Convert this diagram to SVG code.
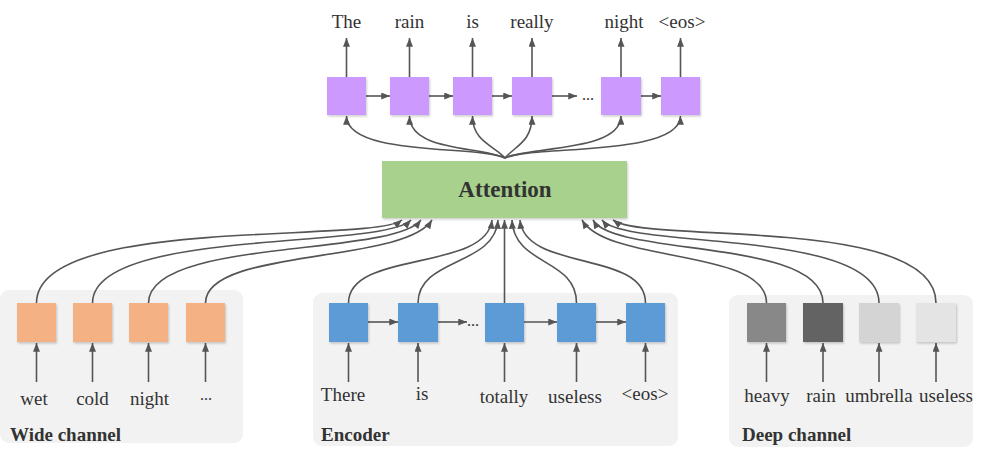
<svg xmlns="http://www.w3.org/2000/svg" width="998" height="461" viewBox="0 0 998 461">
<defs>
  <marker id="ah" viewBox="0 0 10 8" refX="10" refY="4" markerWidth="9" markerHeight="7" markerUnits="userSpaceOnUse" orient="auto">
    <path d="M0,0 L10,4 L0,8 z" fill="#555"/>
  </marker>
  <filter id="sh" x="-20%" y="-20%" width="150%" height="150%">
    <feDropShadow dx="1" dy="1.5" stdDeviation="1" flood-color="#000" flood-opacity="0.2"/>
  </filter>
</defs>
<style>
  .panel { fill: #F2F2F2; }
  .box { filter: url(#sh); }
  .dec { fill: #CC99FF; }
  .wide { fill: #F4B183; }
  .enc { fill: #5B9BD5; }
  .att { fill: #A9D18E; }
  .t { font-family: "Liberation Serif", "Times New Roman", serif; font-size: 19px; fill: #333; }
  .b { font-family: "Liberation Serif", "Times New Roman", serif; font-size: 19px; font-weight: bold; fill: #333; }
  .c { text-anchor: middle; }
  .ln { fill: none; stroke: #555; stroke-width: 1.6; marker-end: url(#ah); }
</style>
<rect width="998" height="461" fill="#fff"/>

<g id="wide-channel">
  <rect class="panel" x="0" y="290" width="243" height="153" rx="9"/>
  <text class="b" x="10" y="441">Wide channel</text>
</g>
<g id="encoder-panel">
  <rect class="panel" x="313" y="293" width="365" height="153" rx="9"/>
  <text class="b" x="321" y="441">Encoder</text>
</g>
<g id="deep-channel">
  <rect class="panel" x="729" y="295" width="244" height="152" rx="9"/>
  <text class="b" x="742" y="441">Deep channel</text>
</g>

<g id="connectors">
  <!-- decoder outputs -->
  <path class="ln" d="M346.5,77 L346.5,38"/>
  <path class="ln" d="M409.5,77 L409.5,38"/>
  <path class="ln" d="M472.5,77 L472.5,38"/>
  <path class="ln" d="M532,77 L532,38"/>
  <path class="ln" d="M621,77 L621,38"/>
  <path class="ln" d="M680.5,77 L680.5,38"/>
  <!-- decoder horizontal -->
  <path class="ln" d="M366,96 L390,96"/>
  <path class="ln" d="M429,96 L453,96"/>
  <path class="ln" d="M492,96 L512,96"/>
  <path class="ln" d="M552,96 L577,96"/>
  <path class="ln" d="M641,96 L661,96"/>
  <!-- attention to decoder -->
  <path class="ln" d="M505,158 C480,145 347,157 346.5,116"/>
  <path class="ln" d="M505,158 C482,146 410,152 409.5,116"/>
  <path class="ln" d="M505,158 C495,146 472.5,142 472.5,116"/>
  <path class="ln" d="M505,158 C515,146 532,142 532,116"/>
  <path class="ln" d="M505,158 C530,146 620.5,152 621,116"/>
  <path class="ln" d="M505,158 C530,145 680,157 680.5,116"/>
  <!-- wide channel to attention -->
  <path class="ln" d="M36.5,303 C36.5,215 372,244 402,220"/>
  <path class="ln" d="M92.5,303 C92.5,228 382,250 411,220"/>
  <path class="ln" d="M148.5,303 C148.5,238 392,257 421,220"/>
  <path class="ln" d="M205.5,303 C205.5,248 404,264 432,220"/>
  <!-- encoder to attention -->
  <path class="ln" d="M348.5,303 C348.5,250 486,272 492,220"/>
  <path class="ln" d="M418,303 C418,258 495,266 498,220"/>
  <path class="ln" d="M504.5,303 L504.5,220"/>
  <path class="ln" d="M576.5,303 C576.5,258 514,266 512,220"/>
  <path class="ln" d="M645.5,303 C645.5,250 525,272 520,220"/>
  <!-- deep channel to attention -->
  <path class="ln" d="M766.5,303 C766.5,248 608,264 582,220"/>
  <path class="ln" d="M823,303 C823,238 614,257 593,220"/>
  <path class="ln" d="M879,303 C879,228 626,250 602,220"/>
  <path class="ln" d="M936,303 C936,215 646,244 613,220"/>
  <!-- inputs -->
  <path class="ln" d="M36.5,382 L36.5,343"/>
  <path class="ln" d="M92.5,382 L92.5,343"/>
  <path class="ln" d="M148.5,382 L148.5,343"/>
  <path class="ln" d="M205.5,382 L205.5,343"/>
  <path class="ln" d="M348.5,382 L348.5,343"/>
  <path class="ln" d="M418,382 L418,343"/>
  <path class="ln" d="M504.5,382 L504.5,343"/>
  <path class="ln" d="M576.5,382 L576.5,343"/>
  <path class="ln" d="M645.5,382 L645.5,343"/>
  <path class="ln" d="M766.5,382 L766.5,343"/>
  <path class="ln" d="M823,382 L823,343"/>
  <path class="ln" d="M879,382 L879,343"/>
  <path class="ln" d="M936,382 L936,343"/>
  <!-- encoder horizontal -->
  <path class="ln" d="M368,322 L398,322"/>
  <path class="ln" d="M438,322 L467,322"/>
  <path class="ln" d="M524,322 L557,322"/>
  <path class="ln" d="M596,322 L626,322"/>
</g>

<g id="decoder">
  <g id="dec1"><rect class="box dec" x="327" y="77" width="39" height="38"/><text class="t c" x="346.5" y="28">The</text></g>
  <g id="dec2"><rect class="box dec" x="390" y="77" width="39" height="38"/><text class="t c" x="409.5" y="28">rain</text></g>
  <g id="dec3"><rect class="box dec" x="453" y="77" width="39" height="38"/><text class="t c" x="472.5" y="28">is</text></g>
  <g id="dec4"><rect class="box dec" x="512" y="77" width="40" height="38"/><text class="t c" x="532" y="28">really</text></g>
  <text class="t" x="582" y="100" style="font-size:16px">...</text>
  <g id="dec5"><rect class="box dec" x="601" y="77" width="40" height="38"/><text class="t c" x="624" y="28">night</text></g>
  <g id="dec6"><rect class="box dec" x="661" y="77" width="39" height="38"/><text class="t c" x="682" y="28">&lt;eos&gt;</text></g>
</g>

<g id="attention">
  <rect class="box att" x="382" y="161" width="245" height="57"/>
  <text class="b c" x="505" y="197" style="font-size:23px">Attention</text>
</g>

<g id="wide-nodes">
  <g id="w1"><rect class="box wide" x="17" y="303" width="39" height="39"/><text class="t c" x="34" y="405">wet</text></g>
  <g id="w2"><rect class="box wide" x="73" y="303" width="39" height="39"/><text class="t c" x="92.5" y="405">cold</text></g>
  <g id="w3"><rect class="box wide" x="129" y="303" width="39" height="39"/><text class="t c" x="149.5" y="405">night</text></g>
  <g id="w4"><rect class="box wide" x="186" y="303" width="39" height="39"/><text class="t c" x="206" y="400" style="font-size:16px">...</text></g>
</g>

<g id="encoder-nodes">
  <g id="e1"><rect class="box enc" x="329" y="303" width="39" height="39"/><text class="t c" x="343" y="401">There</text></g>
  <g id="e2"><rect class="box enc" x="398" y="303" width="40" height="39"/><text class="t c" x="422" y="400">is</text></g>
  <text class="t" x="467" y="326" style="font-size:16px">...</text>
  <g id="e3"><rect class="box enc" x="485" y="303" width="39" height="39"/><text class="t c" x="504" y="403">totally</text></g>
  <g id="e4"><rect class="box enc" x="557" y="303" width="39" height="39"/><text class="t c" x="575" y="403">useless</text></g>
  <g id="e5"><rect class="box enc" x="626" y="303" width="39" height="39"/><text class="t c" x="645" y="400">&lt;eos&gt;</text></g>
</g>

<g id="deep-nodes">
  <g id="d1"><rect class="box" fill="#888888" x="747" y="303" width="39" height="39"/><text class="t c" x="767" y="402">heavy</text></g>
  <g id="d2"><rect class="box" fill="#636363" x="803" y="303" width="40" height="39"/><text class="t c" x="821" y="402">rain</text></g>
  <g id="d3"><rect class="box" fill="#D4D4D4" x="859" y="303" width="40" height="39"/><text class="t c" x="879" y="402">umbrella</text></g>
  <g id="d4"><rect class="box" fill="#E4E4E4" x="916" y="303" width="40" height="39"/><text class="t c" x="946" y="402">useless</text></g>
</g>
</svg>
